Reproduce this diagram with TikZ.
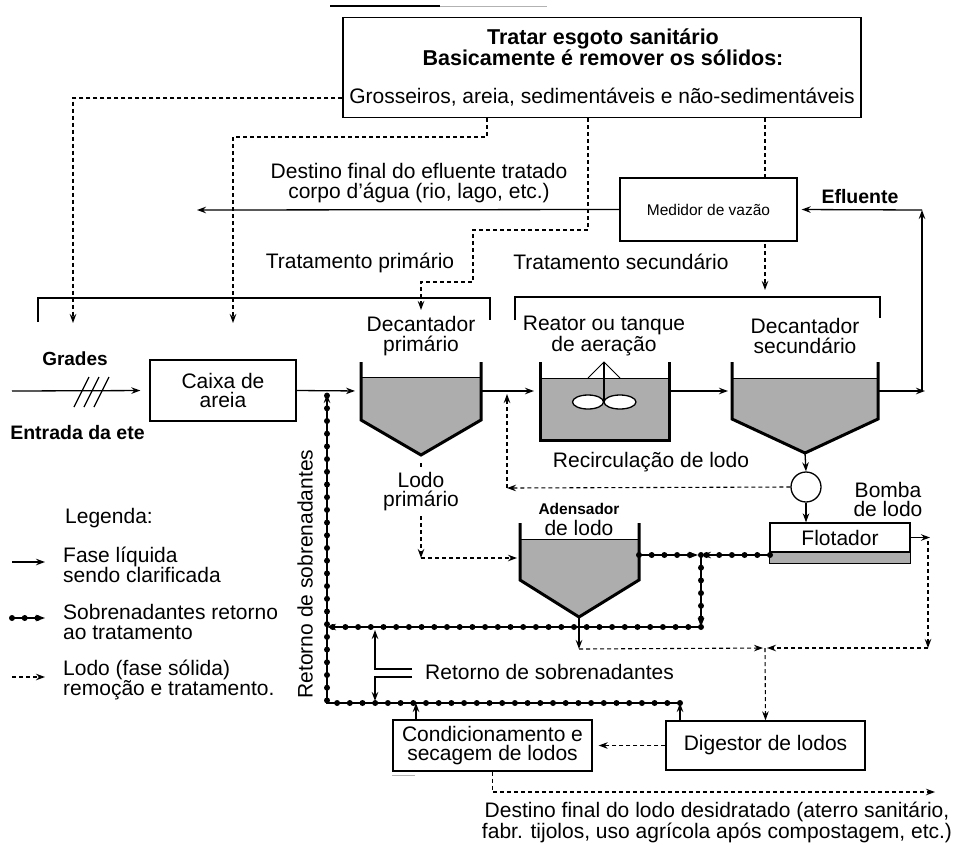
\documentclass[tikz,border=0pt]{standalone}
\usepackage{fontspec}
\setmainfont{Liberation Sans}
\usetikzlibrary{arrows.meta,decorations.markings,calc}
\begin{document}
\begin{tikzpicture}[x=1pt,y=-1pt,
  every node/.style={font=\fontsize{21}{19.5}\selectfont, inner sep=0pt, align=center},
  box/.style={draw, line width=1.3pt, fill=white},
  ln/.style={line width=1.3pt},
  arr/.style={ln, -{Stealth[length=9pt,width=6.5pt]}},
  dsh/.style={line width=1.1pt, dash pattern=on 4pt off 3pt},
  darr/.style={dsh, -{Stealth[length=9pt,width=6.5pt]}},
  sob/.style={line width=1.3pt, postaction={decorate},
    decoration={markings, mark=between positions 0 and 1 step 12.7pt with {\fill circle (3pt);}}},
  sarr/.style={sob, -{Stealth[length=9pt,width=6.5pt]}},
  wall/.style={line width=3pt, line join=miter},
  water/.style={fill=black!32},
  wline/.style={line width=0.8pt},
]
\useasboundingbox (0,0) rectangle (955,844);

% scan artefacts
\draw[line width=1.3pt] (330,6) -- (440,6);
\draw[gray!60, line width=1pt] (440,6) -- (547,6);

% top box
\node[box, minimum width=518pt, minimum height=100pt] (topbox) at (602,67.5) {};
\node[font=\bfseries\fontsize{21.5}{20}\selectfont] (t1) at (603,47) {Tratar esgoto sanitário\\Basicamente é remover os sólidos:};
\node (t3) at (602,97) {Grosseiros, areia, sedimentáveis e não-sedimentáveis};

% dashed lines from top box
\coordinate (gr) at (73,323);
\draw[darr] ([yshift=-30.5pt]topbox.west) -| (gr);
\coordinate (ca) at (233,323);
\draw[darr] ([xshift=-115pt]topbox.south) |- (233,137) -- (ca);
\coordinate (dpin) at (421,310);
\draw[darr] ([xshift=-14pt]topbox.south) |- (473,230) |- (421,282) -- (dpin);
\coordinate (secin) at (765,290);
\draw[darr] ([xshift=163pt]topbox.south) -- (secin);

% medidor
\node[box, minimum width=177pt, minimum height=63pt, font=\fontsize{15.5}{16}\selectfont] (med) at (708.5,209.5) {Medidor de vazão};

% effluent
\coordinate (sout) at (878,391);
\coordinate (effB) at (922,391);
\coordinate (effT) at (922,210);
\draw[arr] (sout) -- ([xshift=3pt]effB);
\draw[arr] (effB) -- (effT);
\draw[arr, shorten >=4pt] (effT) -- (med.east);
\node[font=\bfseries\fontsize{19.5}{20}\selectfont] (efl) at (860,197) {Efluente};
\coordinate (rio) at (197,210);
\draw[arr] (med.west) -- (rio);
\node (dest) at (419,183) {Destino final do efluente tratado\\corpo d’água (rio, lago, etc.)};

% treatment labels and brackets
\node (tp) at (360,263) {Tratamento primário};
\node (ts) at (621,262) {Tratamento secundário};
\draw[ln] (38,322) |- (490,298) -- (490,320);
\draw[ln] (515,320) |- (880,297) -- (880,318);

% grades / entrada
\node[font=\bfseries\fontsize{19}{20}\selectfont] (grades) at (75,359) {Grades};
\node[font=\bfseries\fontsize{19.5}{20}\selectfont] (entrada) at (77.5,433) {Entrada da ete};
\coordinate (in) at (12,391);
\node[box, minimum width=146pt, minimum height=61pt] (caixa) at (223,390.5) {Caixa de\\areia};
\draw[arr, shorten >=9pt] (in) -- (caixa.west);
\foreach \x in {74,84,94} \draw[line width=1.3pt] (\x,407) -- (\x+15,377);

% decantador primario
\fill[water] (361,377) -- (361,420) -- (421,455) -- (481,420) -- (481,377) -- cycle;
\draw[wline] (361,377) -- (481,377);
\draw[wall] (361,362) -- (361,420) -- (421,455) -- (481,420) -- (481,362);
\coordinate (dpW) at (361,391);
\coordinate (dpE) at (481,391);
\coordinate (dpB) at (421,455);
\node (dpl) at (421,336) {Decantador\\primário};
\draw[arr, shorten >=6pt] (caixa.east) -- (dpW);

% reator
\fill[water] (540,378) rectangle (669,440);
\draw[wline] (540,378) -- (669,378);
\draw[wall] (540,362) -- (540,440) -- (669,440) -- (669,362);
\draw[line width=1pt] (588,378) -- (604,362) -- (620,378);
\draw[line width=1.3pt, fill=white] (588,402) ellipse (15.5pt and 7pt);
\draw[line width=1.3pt, fill=white] (620,402) ellipse (16pt and 7pt);
\draw[line width=1.3pt] (604,362) -- (604,402);
\coordinate (rW) at (540,391);
\coordinate (rE) at (669,391);
\node (rl) at (604,336) {Reator ou tanque\\de aeração};
\draw[arr, shorten >=6pt] (dpE) -- (rW);

% decantador secundario
\fill[water] (732,378) -- (732,419) -- (805,453) -- (878,419) -- (878,378) -- cycle;
\draw[wline] (732,378) -- (878,378);
\draw[wall] (732,362) -- (732,419) -- (805,453) -- (878,419) -- (878,362);
\coordinate (sW) at (732,391);
\coordinate (sB) at (805,453);
\node (sl) at (805,336) {Decantador\\secundário};
\draw[arr, shorten >=4pt] (rE) -- (sW);

% flotador and pump
\node[box, minimum width=140pt, minimum height=29pt] (flot) at (840,537.5) {Flotador};
\draw[line width=1.3pt, fill=black!32] (flot.south west) rectangle ([yshift=-11pt]flot.south east);
\node[draw, circle, line width=1.3pt, minimum size=30pt] (pump) at (806,487) {};
\draw[arr] (sB) -- (pump.north);
\draw[arr] (pump.south) -- (pump.south |- flot.north);
\node (bomba) at (888,499.5) {Bomba\\de lodo};

% recirculacao
\coordinate (rc) at (507,488);
\coordinate (rcT) at (507,391);
\draw[darr] (pump.west) -- (rc);
\draw[darr, shorten >=3pt] (rc) -- (rcT);
\node (recl) at (651,462) {Recirculação de lodo};

% lodo primario
\node (lpl) at (421,491.5) {Lodo\\primário};
\draw[dsh, shorten >=3pt, shorten <=8pt] (dpB) -- (lpl.north);
\coordinate (lpc) at (421,558);
\coordinate (adW) at (520,558);
\draw[darr, shorten <=5pt] (lpl.south) -- (lpc);
\draw[darr, shorten >=3pt] (lpc) -- (adW);

% adensador
\fill[water] (520,539) -- (520,580) -- (579,617) -- (639,580) -- (639,539) -- cycle;
\draw[wline] (520,539) -- (639,539);
\draw[wall] (520,523) -- (520,580) -- (579,617) -- (639,580) -- (639,523);
\node[font=\bfseries\fontsize{15.5}{16}\selectfont] (adl1) at (579,509) {Adensador};
\node (adl2) at (579,528) {de lodo};

% sobrenadantes
\coordinate (adE) at (639,555);
\coordinate (jn) at (701,555);
\coordinate (jnB) at (701,627);
\coordinate (flW) at (770,555);
\coordinate (lv) at (327,627);
\coordinate (bot) at (680,703);
\coordinate (lvB) at (327,703);
\coordinate (lvT) at (327,391);
\draw[sarr, shorten >=3pt] (adE) -- (jn);
\draw[sarr, shorten >=1pt] (flW) -- (jn);
\draw[sarr] (jn) -- (jnB);
\draw[sarr] (jnB) -- (lv);
\draw[sarr, shorten >=3pt] (bot) -- (lvB) -- (lvT);
\node[rotate=90] (rsv) at (305,574) {Retorno de sobrenadantes};

% retorno label with bracket arrows
\node[anchor=west] (rsh) at (425,672) {Retorno de sobrenadantes};
\coordinate (rb1) at (412,669);
\coordinate (rb1e) at (375,630);
\coordinate (rb2) at (412,677);
\coordinate (rb2e) at (375,701);
\draw[arr] (rb1) -| (rb1e);
\draw[arr] (rb2) -| (rb2e);

% adensador outlet and sludge lines
\coordinate (adB) at (579,617);
\coordinate (adO) at (579,649);
\draw[arr] (adB) -- (adO);
\coordinate (mid) at (765,648);
\draw[darr, shorten >=2pt] (adO) -- (mid);
\coordinate (flE2) at (930,537.5);
\draw[arr] (flot.east) -- (flE2);
\coordinate (frc) at (928,541);
\coordinate (frB) at (928,648);
\draw[darr] (frc) -- (frB);
\draw[darr, shorten >=2pt] (frB) -- (mid);

% digestor and condicionamento
\node[box, minimum width=199pt, minimum height=49pt] (dig) at (765.5,745.5) {Digestor de lodos};
\draw[darr] (mid) -- (dig.north);
\node[box, minimum width=199pt, minimum height=51pt] (cond) at (492.5,745.5) {Condicionamento e\\secagem de lodos};
\draw[darr, shorten >=6pt] (dig.west) -- (cond.east);
\coordinate (dgU) at (680,721);
\draw[arr] (dgU) -- (bot);
\coordinate (cdU) at (416,720);
\coordinate (cdT) at (416,703);
\draw[arr] (cdU) -- (cdT);
\draw[gray!60, line width=1pt] (392,775) -- (415,775);

% final destination
\coordinate (fin) at (935,792);
\draw[darr] (cond.south) |- (fin);
\node (fdest) at (717,822.5) {Destino final do lodo desidratado (aterro sanitário,\\fabr. tijolos, uso agrícola após compostagem, etc.)};

% legend
\node[anchor=west] (leg) at (65,518) {Legenda:};
\node[anchor=west, align=left] (l1) at (63,565) {Fase líquida\\sendo clarificada};
\node[anchor=west, align=left] (l2) at (63,622) {Sobrenadantes retorno\\ao tratamento};
\node[anchor=west, align=left] (l3) at (63,680) {Lodo (fase sólida)\\remoção e tratamento.};
\coordinate (la1) at (12,562); \coordinate (lb1) at (45,562);
\coordinate (la2) at (12,618); \coordinate (lb2) at (45,618);
\coordinate (la3) at (12,677); \coordinate (lb3) at (45,677);
\draw[arr] (la1) -- (lb1);
\draw[sarr] (la2) -- (lb2);
\draw[darr] (la3) -- (lb3);
\end{tikzpicture}
\end{document}
